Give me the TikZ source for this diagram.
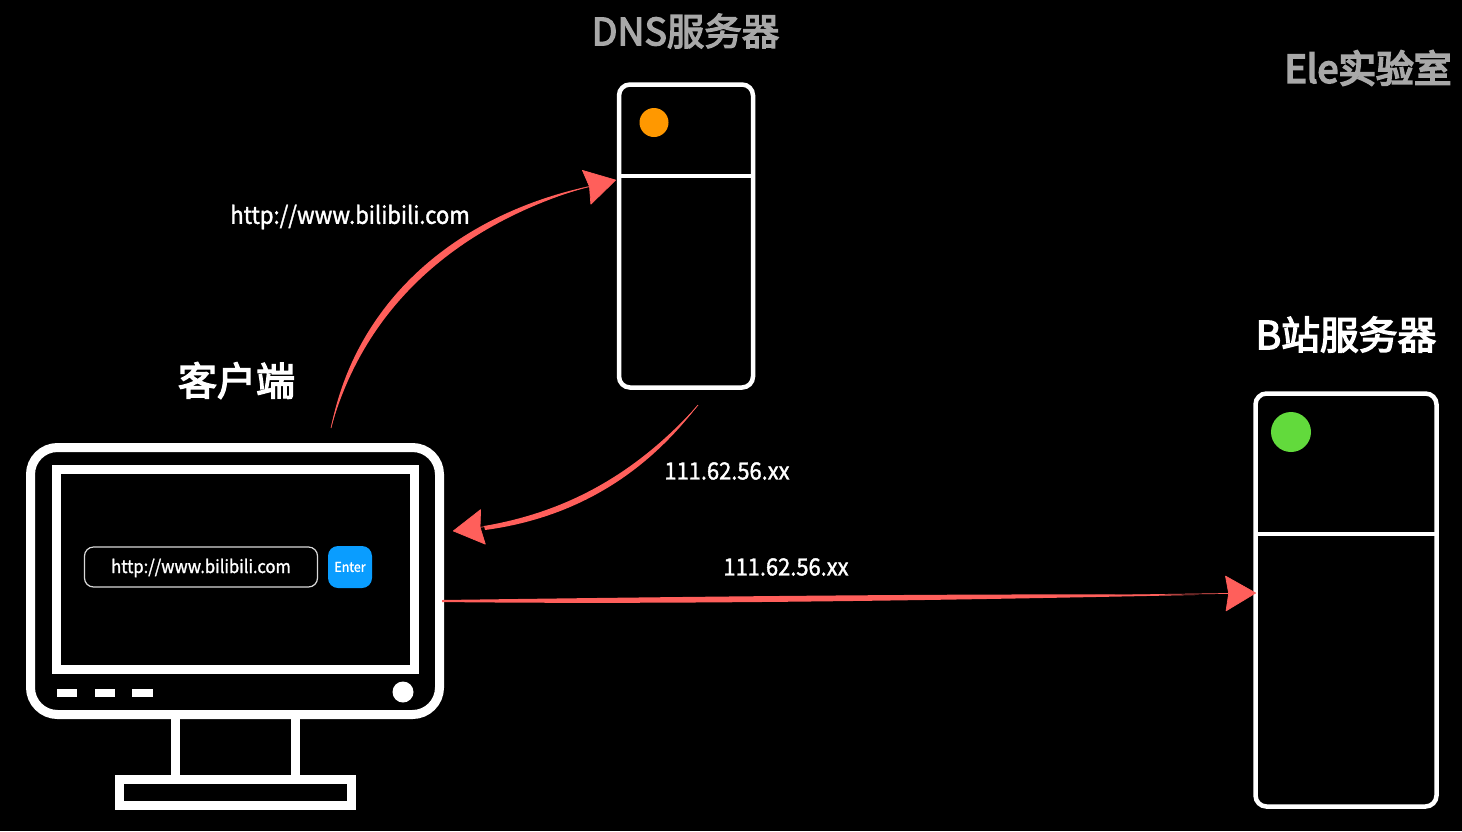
\documentclass[tikz,border=0pt]{standalone}
\usepackage{fontspec}
\setmainfont{Noto Sans CJK SC}
\newfontfamily\titlefont[FakeBold=3.5]{Noto Sans CJK SC}
\newfontfamily\markfont[FakeBold=5]{Noto Sans CJK SC}
\newfontfamily\labelfont[FakeStretch=0.92,FakeBold=1.5]{Noto Sans CJK SC}
\usetikzlibrary{positioning,arrows.meta}
\definecolor{flowred}{HTML}{FF5F5B}
\definecolor{titlegray}{HTML}{A8A8A8}
\definecolor{enterblue}{HTML}{0A9DFF}
\definecolor{dotorange}{HTML}{FF9800}
\definecolor{dotgreen}{HTML}{62DA3C}
\newcommand{\sized}[1]{\fontsize{#1}{#1}\selectfont}

\begin{document}
\begin{tikzpicture}[x=1pt,y=-1pt]
        \tikzstyle{every node}=[inner sep=0pt, outer sep=0pt, white]
        \tikzstyle{thickbox}=[draw=white, line width=9pt, sharp corners]
        \tikzstyle{serverbox}=[draw=white, line width=4.5pt, rounded corners=11pt]
        \tikzstyle{led}=[circle]
        \tikzstyle{slot}=[fill=white, minimum width=20.5pt, minimum height=8pt]
        \tikzstyle{flowline}=[draw=flowred, line width=0.7pt, -{Stealth[inset=3pt,length=31pt,width=36pt,round]}]
        \tikzstyle{flowbody}=[fill=flowred]

        \fill[black] (0,0) rectangle (1462,831);
        \useasboundingbox (0,0) rectangle (1462,831);

        % monitor
        \node (case)   [thickbox, rounded corners=27pt, minimum width=409pt, minimum height=267pt] at (235,581) {};
        \node (screen) [thickbox, minimum width=358pt, minimum height=200pt] at (235.5,569.5) {};
        \node (base)   [thickbox, minimum width=232pt, minimum height=26pt] at (235.5,792.5) {};
        \node (slot1)  [slot] at (67,693) {};
        \node (slot2)  [slot, right=17.5pt of slot1] {};
        \node (slot3)  [slot, right=17pt of slot2] {};
        \node (power)  [led, fill=white, minimum size=21pt] at (403,692) {};
        \draw[white, line width=9pt] (175.5,719) coordinate (neckl) -- (neckl |- base.north);
        \draw[white, line width=9pt] (295.5,719) coordinate (neckr) -- (neckr |- base.north);

        % address bar
        \node (urlbar) [draw=white!85!black, line width=1.2pt, rounded corners=9pt, minimum width=233pt, minimum height=40pt] at (201,567) {\labelfont\sized{18}\rule[-10pt]{0pt}{32pt}http://www.bilibili.com};
        \node (enter)  [fill=enterblue, rounded corners=10pt, minimum width=44pt, minimum height=42pt] at (350,567) {\labelfont\sized{13.5}Enter};
        \node (clientname) [above=67pt of case.north, xshift=1.5pt, anchor=center] {\titlefont\sized{39}客户端};

        % servers
        \node (dns)    [serverbox, minimum width=134pt, minimum height=303pt] at (686,236) {};
        \draw[white, line width=4.5pt] (dns.west |- 0,176) coordinate (dnsl) -- (dns.east |- dnsl);
        \node (dnsled) [led, fill=dotorange, minimum size=29pt] at (654,122.5) {};
        \node (dnsname) [titlegray] at (685.5,31) {\titlefont\sized{37.5}DNS服务器};

        \node (bsite)  [serverbox, minimum width=181pt, minimum height=413pt] at (1346,600) {};
        \draw[white, line width=4.5pt] (bsite.west |- 0,534) coordinate (bsitel) -- (bsite.east |- bsitel);
        \node (bsiteled) [led, fill=dotgreen, minimum size=40pt] at (1291,432) {};
        \node (bsitename) [above=59pt of bsite.north, anchor=center] {\titlefont\sized{38.8}B站服务器};

        \node (mark) [titlegray] at (1368,68) {\markfont\sized{37.7}Ele实验室};

        % flows
        \coordinate (askfrom) at (331,428);
        \coordinate (askto)   at (616,180);
        \coordinate (backfrom) at (698,405);
        \coordinate (backto)   at (453,531);
        \coordinate (gofrom) at (442,601);
        \coordinate (goto)   at (1256,593);

        \fill[flowbody] (askfrom) .. controls (355,304) and (452.5,215.5) .. (590,186) .. controls (457.5,224.5) and (365,306) .. (askfrom);
        \draw[flowline] (askfrom) .. controls (360,305) and (455,220) .. (askto);
        \fill[flowbody] (backfrom) .. controls (637,472.5) and (569,511.5) .. (484,526) -- (485,530) .. controls (571,518.5) and (643,477.5) .. (backfrom);
        \draw[flowline] (backfrom) .. controls (640,475) and (570,515) .. (backto);
        \fill[flowbody] (442,600) .. controls (700,596.5) and (1000,593) .. (1195,595) .. controls (1000,599) and (700,605) .. (442,602);
        \draw[flowline] (gofrom) .. controls (700,600) and (1000,597) .. (goto);

        \node (asklabel)  at (350,217) {\labelfont\sized{24}http://www.bilibili.com};
        \node (backlabel) at (727,471) {\labelfont\sized{23.8}111.62.56.xx};
        \node (golabel)   at (786,567) {\labelfont\sized{23.8}111.62.56.xx};
    \end{tikzpicture}
\end{document}
